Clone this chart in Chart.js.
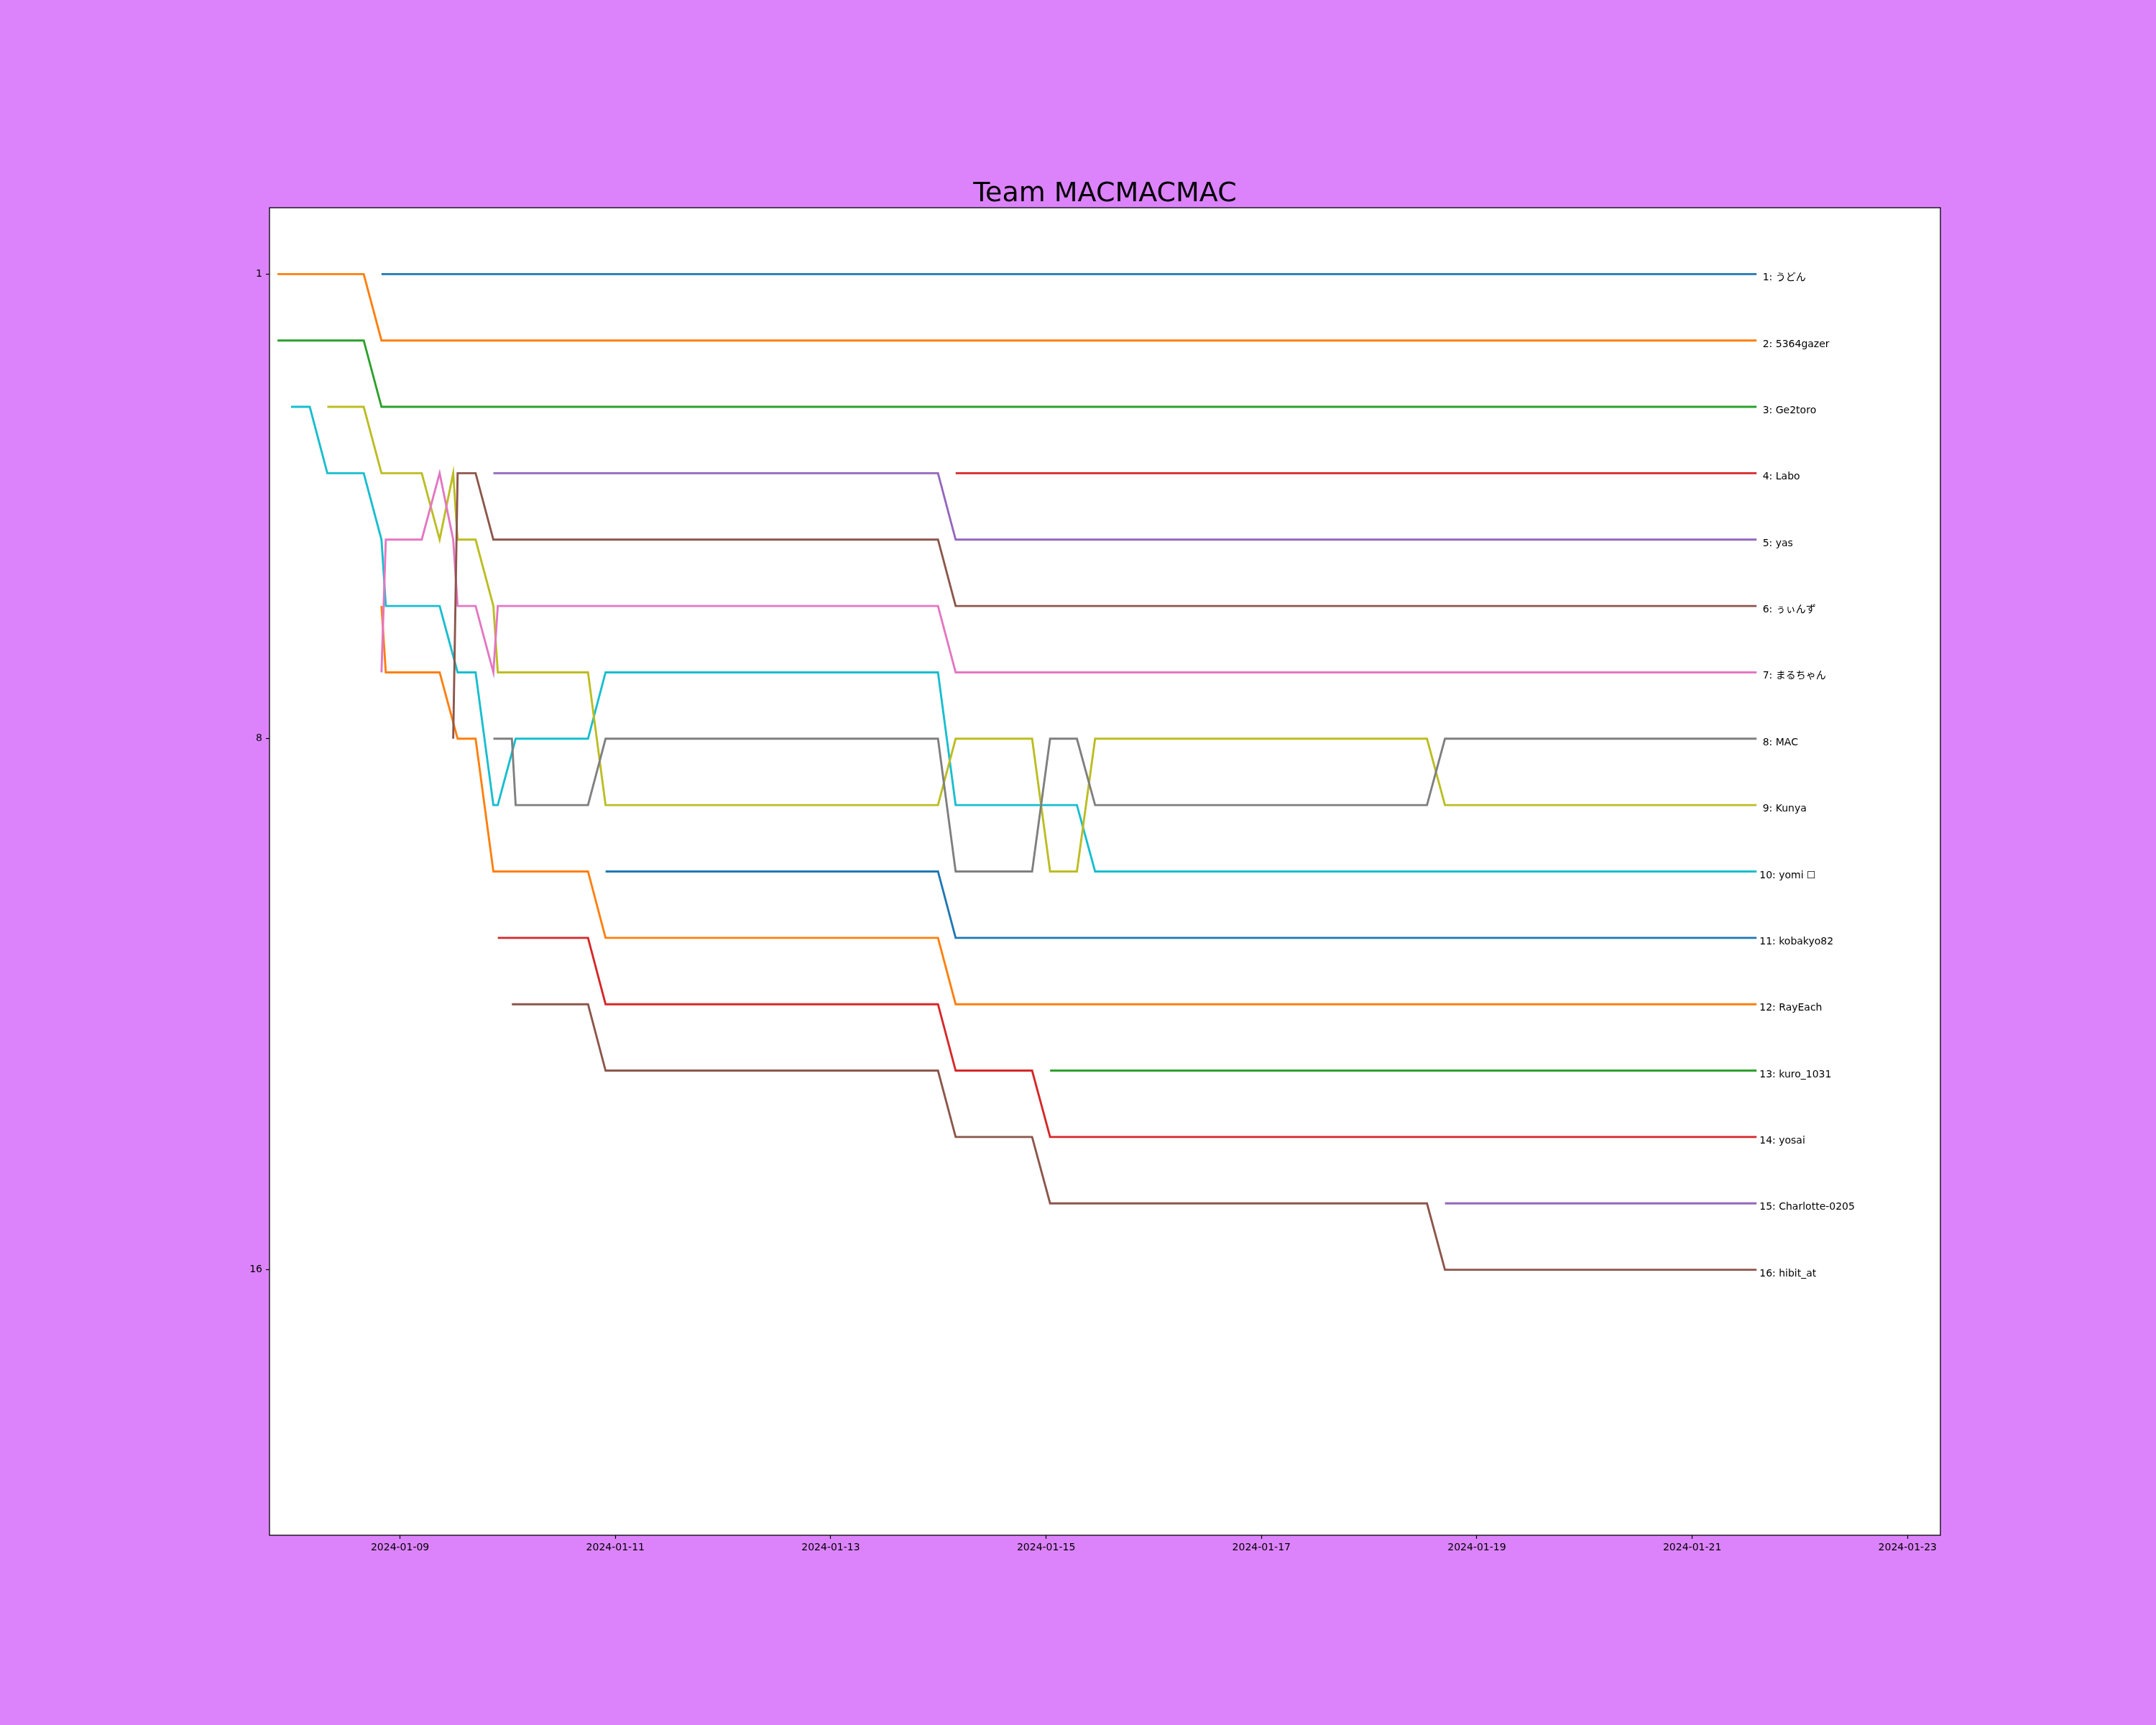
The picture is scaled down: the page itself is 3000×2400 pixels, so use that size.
<!DOCTYPE html>
<html>
<head>
<meta charset="utf-8">
<title>Team MACMACMAC</title>
<script src="https://cdn.jsdelivr.net/npm/chart.js@4.4.1/dist/chart.umd.min.js"></script>
<style>
    html, body { margin: 0; padding: 0; background: #dc83fc; }
    canvas { display: block; }
</style>
</head>
<body>
<canvas id="rankChart" width="3000" height="2400"></canvas>
<script>
// ==================== DATA ====================

// snapshot times, as day of January 2024 (9.5 = 2024-01-09 12:00)
const times = [7.862, 7.988, 8.162, 8.325, 8.663, 8.828, 8.868, 9.202, 9.368, 9.494,
               9.535, 9.702, 9.867, 9.908, 10.039, 10.074, 10.746, 10.909, 13.996, 14.160,
               14.870, 15.037, 15.286, 15.455, 18.537, 18.704, 21.598];

const xTickValues = [9, 11, 13, 15, 17, 19, 21, 23];
const xTickLabels = ['2024-01-09', '2024-01-11', '2024-01-13', '2024-01-15',
                     '2024-01-17', '2024-01-19', '2024-01-21', '2024-01-23'];
const yTickValues = [1, 8, 16];

const names = ['うどん', '5364gazer', 'Ge2toro', 'Labo', 'yas', 'ぅぃんず', 'まるちゃん', 'MAC',
               'Kunya', 'yomi ☐', 'kobakyo82', 'RayEach', 'kuro_1031', 'yosai', 'Charlotte-0205', 'hibit_at'];

// rank at each snapshot, null = not on the board yet (or no vertex there)
const _ = null;
const udonRanks      = [_, _, _, _, _, 1, 1, 1, 1, 1, 1, 1, 1, 1, 1, 1, 1, 1, 1, 1, 1, 1, 1, 1, 1, 1, 1];
const gazerRanks     = [1, 1, 1, 1, 1, 2, 2, 2, 2, 2, 2, 2, 2, 2, 2, 2, 2, 2, 2, 2, 2, 2, 2, 2, 2, 2, 2];
const ge2toroRanks   = [2, 2, 2, 2, 2, 3, 3, 3, 3, 3, 3, 3, 3, 3, 3, 3, 3, 3, 3, 3, 3, 3, 3, 3, 3, 3, 3];
const laboRanks      = [_, _, _, _, _, _, _, _, _, _, _, _, _, _, _, _, _, _, _, 4, 4, 4, 4, 4, 4, 4, 4];
const yasRanks       = [_, _, _, _, _, _, _, _, _, _, _, _, 4, 4, 4, 4, 4, 4, 4, 5, 5, 5, 5, 5, 5, 5, 5];
const winzuRanks     = [_, _, _, _, _, _, _, _, _, 8, 4, 4, 5, 5, 5, 5, 5, 5, 5, 6, 6, 6, 6, 6, 6, 6, 6];
const maruchanRanks  = [_, _, _, _, _, 7, 5, 5, 4, 5, 6, 6, 7, 6, 6, 6, 6, 6, 6, 7, 7, 7, 7, 7, 7, 7, 7];
const macRanks       = [_, _, _, _, _, _, _, _, _, _, _, _, 8, 8, 8, 9, 9, 8, 8, 10, 10, 8, 8, 9, 9, 8, 8];
const kunyaRanks     = [_, _, _, 3, 3, 4, 4, 4, 5, 4, 5, 5, 6, 7, 7, 7, 7, 9, 9, 8, 8, 10, 10, 8, 8, 9, 9];
const yomiRanks      = [_, 3, 3, 4, 4, 5, 6, 6, 6, _, 7, 7, 9, 9, _, 8, 8, 7, 7, 9, 9, 9, 9, 10, 10, 10, 10];
const kobakyoRanks   = [_, _, _, _, _, _, _, _, _, _, _, _, _, _, _, _, _, 10, 10, 11, 11, 11, 11, 11, 11, 11, 11];
const rayEachRanks   = [_, _, _, _, _, 6, 7, 7, 7, _, 8, 8, 10, 10, 10, 10, 10, 11, 11, 12, 12, 12, 12, 12, 12, 12, 12];
const kuroRanks      = [_, _, _, _, _, _, _, _, _, _, _, _, _, _, _, _, _, _, _, _, _, 13, 13, 13, 13, 13, 13];
const yosaiRanks     = [_, _, _, _, _, _, _, _, _, _, _, _, _, 11, 11, 11, 11, 12, 12, 13, 13, 14, 14, 14, 14, 14, 14];
const charlotteRanks = [_, _, _, _, _, _, _, _, _, _, _, _, _, _, _, _, _, _, _, _, _, _, _, _, _, 15, 15];
const hibitRanks     = [_, _, _, _, _, _, _, _, _, _, _, _, _, _, 12, 12, 12, 13, 13, 14, 14, 15, 15, 15, 15, 16, 16];

const rankSeries = [udonRanks, gazerRanks, ge2toroRanks, laboRanks, yasRanks, winzuRanks, maruchanRanks, macRanks,
                    kunyaRanks, yomiRanks, kobakyoRanks, rayEachRanks, kuroRanks, yosaiRanks, charlotteRanks, hibitRanks];

// ==================== STYLE ====================

const tab10 = ['#1f77b4', '#ff7f0e', '#2ca02c', '#d62728', '#9467bd',
               '#8c564b', '#e377c2', '#7f7f7f', '#bcbd22', '#17becf'];
const BG = '#dc83fc';
const FONT = '"DejaVu Sans", "Noto Sans CJK JP", sans-serif';

function toPoints(ranks) {
    let points = [];
    ranks.forEach((r, i) => {
        if (r !== null) points.push({ x: times[i], y: r });
    });
    return points;
}

let datasets = rankSeries.map((ranks, i) => ({
    label: names[i],
    data: toPoints(ranks),
    borderColor: tab10[i % 10],
    borderWidth: 2.9,
    pointRadius: 0,
    tension: 0,
    fill: false
}));

// ==================== PLUGINS ====================

const backgroundPlugin = {
    id: 'background',
    beforeDraw(chart) {
        let ctx = chart.ctx;
        let a = chart.chartArea;
        ctx.save();
        ctx.fillStyle = BG;
        ctx.fillRect(0, 0, chart.width, chart.height);
        ctx.fillStyle = '#ffffff';
        ctx.fillRect(a.left, a.top, a.right - a.left, a.bottom - a.top);
        ctx.restore();
    }
};

// frame, end-of-line labels and title
const decorPlugin = {
    id: 'decor',
    afterDatasetsDraw(chart) {
        let ctx = chart.ctx;
        let a = chart.chartArea;
        ctx.save();

        ctx.strokeStyle = '#000';
        ctx.lineWidth = 1.3;
        ctx.strokeRect(a.left, a.top, a.right - a.left, a.bottom - a.top);

        ctx.font = '14px ' + FONT;
        ctx.fillStyle = '#000';
        ctx.textAlign = 'left';
        ctx.textBaseline = 'alphabetic';
        let spaceW = ctx.measureText(' ').width;
        chart.data.datasets.forEach((ds, i) => {
            let meta = chart.getDatasetMeta(i);
            let last = meta.data[meta.data.length - 1];
            let ranks = rankSeries[i];
            let finalRank = ranks[ranks.length - 1];
            let offset = finalRank < 10 ? 4 + spaceW : 4;
            ctx.fillText(finalRank + ': ' + names[i], last.x + offset, last.y + 9);
        });

        ctx.font = '38px ' + FONT;
        ctx.textAlign = 'center';
        ctx.fillText('Team MACMACMAC', (a.left + a.right) / 2, a.top - 9);
        ctx.restore();
    }
};

// ==================== CHART ====================

Chart.defaults.font.family = FONT;
Chart.defaults.font.size = 14;
Chart.defaults.color = '#000';

let ctx = document.getElementById('rankChart').getContext('2d');
new Chart(ctx, {
    type: 'line',
    data: { datasets: datasets },
    options: {
        responsive: false,
        animation: false,
        devicePixelRatio: 1,
        layout: { padding: { top: 289, right: 300, bottom: 0, left: 0 } },
        plugins: {
            legend: { display: false },
            tooltip: { enabled: false },
            title: { display: false }
        },
        scales: {
            x: {
                type: 'linear',
                min: 7.788,
                max: 23.305,
                afterBuildTicks: scale => { scale.ticks = xTickValues.map(v => ({ value: v })); },
                afterFit: scale => { scale.height = 264; },
                ticks: {
                    autoSkip: false,
                    maxRotation: 0,
                    padding: 4,
                    callback: value => xTickLabels[xTickValues.indexOf(value)]
                },
                grid: { drawOnChartArea: false, drawTicks: true, tickLength: 5, tickColor: '#000', tickWidth: 1.2 },
                border: { display: false }
            },
            y: {
                type: 'linear',
                reverse: true,
                min: 0,
                max: 20,
                afterBuildTicks: scale => { scale.ticks = yTickValues.map(v => ({ value: v })); },
                afterFit: scale => { scale.width = 375; },
                ticks: { padding: 5, autoSkip: false },
                grid: { drawOnChartArea: false, drawTicks: true, tickLength: 5, tickColor: '#000', tickWidth: 1.2 },
                border: { display: false }
            }
        }
    },
    plugins: [backgroundPlugin, decorPlugin]
});
</script>
</body>
</html>
